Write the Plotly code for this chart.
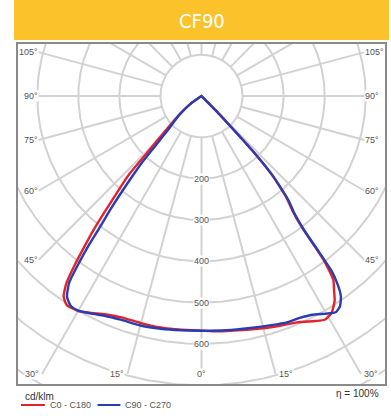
import numpy as np
import plotly.graph_objects as go

# ---------------- data (gamma angle in degrees from nadir, intensity cd/klm) ----------------
c180_gamma = [0, 5, 10, 15, 20, 24, 27, 30, 33, 34.7, 36, 37, 38, 39, 40, 41, 42, 43, 44, 45, 47, 50, 55, 60, 90]
c180_cd    = [568, 568, 569, 569, 570, 578, 589, 601, 603, 590, 560, 515, 465, 420, 370, 325, 290, 255, 190, 155, 110, 75, 32, 0, 0]
c0_gamma   = [0, 4, 10, 15, 19, 23, 27, 29, 31, 32.5, 33.3, 34.5, 35.8, 36.8, 37.2, 37.6, 38.6, 40.1, 41, 42, 43, 43.5, 44, 45, 46, 90]
c0_cd      = [568, 571, 575, 582, 588, 595, 611, 619, 614, 600, 591, 570, 549, 500, 450, 400, 355, 322, 290, 255, 195, 145, 97, 48, 0, 0]

c270_gamma = [0, 5, 10, 15, 20, 24, 27, 30, 32, 34, 35.5, 36.5, 37.3, 38, 39, 40, 41, 42, 43, 45, 50, 55, 60, 90]
c270_cd    = [568, 569, 572, 575, 576, 582, 591, 600, 600, 586, 555, 500, 450, 400, 350, 300, 255, 215, 165, 115, 70, 30, 0, 0]
c90_gamma  = [0, 6, 12, 17, 21, 24, 27, 30, 32, 33.5, 35, 36, 36.8, 37.2, 37.6, 38.5, 40, 41, 42, 43, 43.5, 44, 45, 46, 90]
c90_cd     = [568, 570, 574, 580, 586, 588, 594, 608, 617, 611, 592, 565, 530, 470, 410, 365, 330, 295, 260, 200, 150, 100, 50, 0, 0]

ring_values = [100, 200, 300, 400, 500, 600, 700, 800, 900]
ring_labels = [200, 300, 400, 500, 600]
spoke_angles = list(range(-165, 181, 15))
side_label_angles = [45, 60, 75, 90, 105]
bottom_label_angles = [0, 15, 30]

title_text = "CF90"
unit_text = "cd/klm"
eff_text = "\u03b7 = 100%"
series_names = ["C0 - C180", "C90 - C270"]
series_colors = ["#e3232b", "#2a3cb4"]

# ---------------- geometry helpers ----------------
W, H = 391, 416
ML, MR, MT, MB = 18, 4, 44, 32
X_RANGE = [-447, 447]
Y_RANGE = [-697, 126]
SIDE_X = 397
BOTTOM_Y = -673


def px_x(px):
    return (px - ML) / (W - ML - MR)


def px_y(py):
    return (H - MB - py) / (H - MT - MB)


def to_xy(gamma_signed, r):
    g = np.radians(np.asarray(gamma_signed, dtype=float))
    r = np.asarray(r, dtype=float)
    return r * np.sin(g), -r * np.cos(g)


def full_curve(left_g, left_cd, right_g, right_cd):
    g = [-v for v in left_g[::-1]] + list(right_g[1:])
    r = list(left_cd[::-1]) + list(right_cd[1:])
    return to_xy(g, r)


fig = go.Figure()
grid_col = "#d2d2d2"

# rings
t = np.linspace(0, 2 * np.pi, 721)
for rv in ring_values:
    fig.add_trace(go.Scatter(x=rv * np.cos(t), y=rv * np.sin(t), mode="lines",
                             line=dict(color=grid_col, width=2), hoverinfo="skip", showlegend=False))

# spokes
for a in spoke_angles:
    ar = np.radians(abs(a))
    if abs(a) <= 105:
        cands = [SIDE_X / np.sin(ar)] if np.sin(ar) > 1e-6 else []
        if np.cos(ar) > 1e-6:
            cands.append(-BOTTOM_Y / np.cos(ar))
        r_end = min(cands)
    else:
        r_end = 2000
    xs, ys = to_xy([a, a], [100, r_end])
    fig.add_trace(go.Scatter(x=xs, y=ys, mode="lines", line=dict(color=grid_col, width=2),
                             hoverinfo="skip", showlegend=False))

# curves
for (lg, lc, rg, rc), name, col in zip(
        [(c180_gamma, c180_cd, c0_gamma, c0_cd), (c270_gamma, c270_cd, c90_gamma, c90_cd)],
        series_names, series_colors):
    xs, ys = full_curve(lg, lc, rg, rc)
    fig.add_trace(go.Scatter(x=xs, y=ys, mode="lines", name=name,
                             line=dict(color=col, width=2.4, shape="spline", smoothing=0.5),
                             showlegend=False))

ann = []
lab_font = dict(family="Liberation Sans, Arial, sans-serif", size=9, color="#555")
# ring labels
for rv in ring_labels:
    ann.append(dict(x=0, y=-rv, xref="x", yref="y", text=str(rv), showarrow=False,
                    font=lab_font, bgcolor="white", borderpad=0, yanchor="middle"))
# side angle labels
for a in side_label_angles:
    yv = -SIDE_X / np.tan(np.radians(a))
    for sgn in (-1, 1):
        ann.append(dict(x=sgn * SIDE_X, y=yv, xref="x", yref="y", text=f"{a}\u00b0",
                        showarrow=False, font=lab_font, bgcolor="white", borderpad=0, yanchor="middle",
                        xanchor="right" if sgn < 0 else "left"))
# bottom angle labels
for a in bottom_label_angles:
    xv = -BOTTOM_Y * np.tan(np.radians(a))
    if a == 0:
        ann.append(dict(x=0, y=BOTTOM_Y, xref="x", yref="y", text="0\u00b0", showarrow=False,
                        font=lab_font, bgcolor="white", borderpad=0, yanchor="middle"))
    else:
        for sgn in (-1, 1):
            ann.append(dict(x=sgn * xv, y=BOTTOM_Y, xref="x", yref="y", text=f"{a}\u00b0",
                            showarrow=False, font=lab_font, bgcolor="white", borderpad=0, yanchor="middle",
                            xanchor="right" if sgn < 0 else "left", xshift=sgn * 2))

# title
ann.append(dict(x=px_x(203), y=px_y(21), xref="paper", yref="paper", text=title_text,
                showarrow=False, xanchor="center", yanchor="middle",
                font=dict(family="DejaVu Sans Condensed, Liberation Sans Narrow, Liberation Sans, Arial",
                          size=20, color="white")))
# unit & efficiency
ann.append(dict(x=px_x(23), y=px_y(396), xref="paper", yref="paper", text=unit_text, xanchor="left",
                yanchor="middle", showarrow=False,
                font=dict(family="Liberation Sans, Arial", size=10, color="#333")))
ann.append(dict(x=px_x(383), y=px_y(394), xref="paper", yref="paper", text=eff_text, xanchor="right",
                yanchor="middle", showarrow=False,
                font=dict(family="Liberation Sans, Arial", size=10, color="#333")))
# legend texts
leg_x = [(21, 45, 48), (98, 121, 124)]
for (x0, x1, xt), name in zip(leg_x, series_names):
    ann.append(dict(x=px_x(xt), y=px_y(405), xref="paper", yref="paper", text=name, xanchor="left",
                    yanchor="middle", showarrow=False,
                    font=dict(family="Liberation Sans, Arial", size=9, color="#555")))

shapes = [
    dict(type="rect", xref="paper", yref="paper", x0=px_x(14), x1=px_x(391), y0=px_y(40), y1=px_y(0),
         fillcolor="#fcc22c", line=dict(width=0), layer="below"),
]
for (x0, x1, xt), col in zip(leg_x, series_colors):
    shapes.append(dict(type="line", xref="paper", yref="paper", x0=px_x(x0), x1=px_x(x1),
                       y0=px_y(405), y1=px_y(405), line=dict(color=col, width=2)))

fig.update_layout(
    width=W, height=H,
    margin=dict(l=ML, r=MR, t=MT, b=MB, pad=0),
    paper_bgcolor="white", plot_bgcolor="white",
    xaxis=dict(range=X_RANGE, showgrid=False, zeroline=False, showticklabels=False, ticks="",
               showline=True, mirror=True, linecolor="#8a8a8a", linewidth=1.5, fixedrange=True),
    yaxis=dict(range=Y_RANGE, showgrid=False, zeroline=False, showticklabels=False, ticks="",
               showline=True, mirror=True, linecolor="#8a8a8a", linewidth=1.5, fixedrange=True),
    annotations=ann, shapes=shapes, showlegend=False,
)

fig.write_html("out.html", config={"displayModeBar": False},
               post_script="document.body.style.margin='0';document.body.style.overflow='hidden';")
